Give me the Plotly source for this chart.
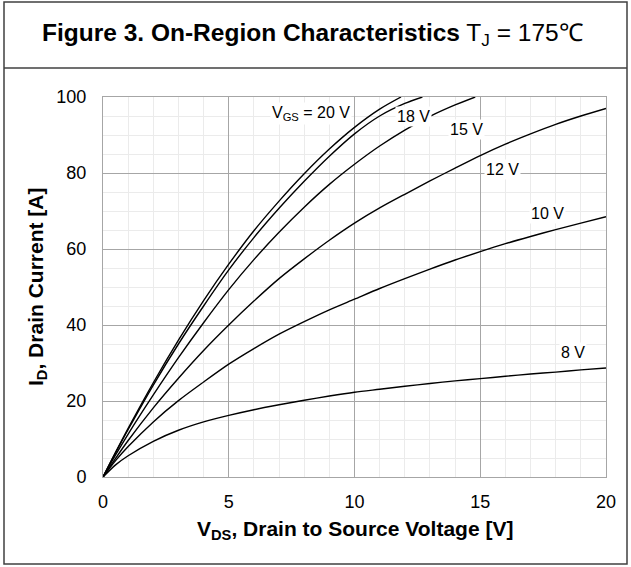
import plotly.graph_objects as go

# ---- data ----
vds_20 = [0, 0.5, 1, 2, 3, 4, 5, 6, 7, 8, 9, 10, 11, 11.85]
id_20 = [0, 6.5, 12.8, 24.8, 36.0, 46.4, 56.0, 64.8, 72.6, 79.8, 86.3, 92.0, 96.8, 100]

vds_18 = [0, 0.5, 1, 2, 3, 4, 5, 6, 7, 8, 9, 10, 11, 12, 12.7]
id_18 = [0, 6.4, 12.5, 24.2, 35.0, 45.0, 54.5, 63.0, 70.7, 77.8, 84.4, 90.3, 95.0, 98.3, 100]

vds_15 = [0, 0.5, 1, 2, 3, 4, 5, 6, 7, 8, 9, 10, 11, 12, 13, 14, 14.8]
id_15 = [0, 5.8, 11.3, 21.6, 31.4, 40.6, 49.3, 57.2, 64.4, 71.0, 77.0, 82.3, 87.1, 91.3, 94.9, 97.9, 100]

vds_low = [0, 0.5, 1, 2, 3, 4, 5, 6, 7, 8, 9, 10, 11, 12, 13, 14, 15, 16, 17, 18, 19, 20]
id_12 = [0, 4.9, 9.6, 18.2, 26.0, 33.3, 40.0, 46.3, 52.2, 57.4, 62.3, 66.8, 70.8, 74.4,
         77.9, 81.3, 84.6, 87.6, 90.3, 92.8, 95.0, 97.0]
id_10 = [0, 4.3, 8.0, 14.5, 20.1, 25.0, 29.7, 33.8, 37.6, 40.9, 44.0, 46.8, 49.6, 52.2,
         54.7, 57.1, 59.3, 61.4, 63.3, 65.1, 66.8, 68.5]
id_8 = [0, 3.2, 5.6, 9.4, 12.3, 14.5, 16.2, 17.7, 19.0, 20.2, 21.3, 22.3, 23.1, 23.9,
        24.6, 25.3, 25.9, 26.5, 27.1, 27.6, 28.2, 28.7]

series = [
    ("20 V", vds_20, id_20),
    ("18 V", vds_18, id_18),
    ("15 V", vds_15, id_15),
    ("12 V", vds_low, id_12),
    ("10 V", vds_low, id_10),
    ("8 V", vds_low, id_8),
]

label_texts = ["V<sub>GS</sub> = 20 V", "18 V", "15 V", "12 V", "10 V", "8 V"]
label_x = [8.28, 12.34, 14.45, 15.88, 17.67, 18.7]
label_y = [95.6, 94.8, 91.4, 80.9, 69.3, 32.7]

x_ticks = [0, 5, 10, 15, 20]
y_ticks = [0, 20, 40, 60, 80, 100]

title_text = "<b>Figure 3. On-Region Characteristics</b> T<sub>J</sub> = 175℃"
x_title = "<b>V<sub>DS</sub>, Drain to Source Voltage [V]</b>"
y_title = "<b>I<sub>D</sub>, Drain Current [A]</b>"

FONT = "Liberation Sans, Arial, Helvetica, sans-serif"
MAJOR = "#a6a6a6"
MINOR = "#ebebeb"
BORDER = "#404040"

fig = go.Figure()
for name, xs, ys in series:
    fig.add_trace(go.Scatter(x=xs, y=ys, mode="lines", name=name,
                             line=dict(color="black", width=1.4, shape="spline", smoothing=0.8),
                             showlegend=False, hoverinfo="skip"))

annotations = []
for t, lx, ly in zip(label_texts, label_x, label_y):
    annotations.append(dict(x=lx, y=ly, xref="x", yref="y", text=t, showarrow=False,
                            font=dict(family=FONT, size=16, color="black"),
                            bgcolor="white", borderpad=1, xanchor="center", yanchor="middle"))

# plot area: x 103..606 px, y 97..477 px
W, H = 631, 567
L, R, T, B = 103, 25, 97, 90
pw, ph = W - L - R, H - T - B

def px_to_paper_x(px):
    return (px - L) / pw

def px_to_paper_y(py):
    return (H - B - py) / ph

annotations.append(dict(x=px_to_paper_x(312), y=px_to_paper_y(34), xref="paper", yref="paper",
                        text=title_text, showarrow=False, xanchor="center", yanchor="middle",
                        font=dict(family=FONT, size=24.5, color="black")))
annotations.append(dict(x=0.5, y=px_to_paper_y(530), xref="paper", yref="paper",
                        text=x_title, showarrow=False, xanchor="center", yanchor="middle",
                        font=dict(family=FONT, size=21, color="black")))
annotations.append(dict(x=px_to_paper_x(37), y=0.5, xref="paper", yref="paper",
                        text=y_title, showarrow=False, xanchor="center", yanchor="middle",
                        textangle=-90, font=dict(family=FONT, size=21, color="black")))

shapes = [
    dict(type="rect", xref="paper", yref="paper",
         x0=px_to_paper_x(4), x1=px_to_paper_x(627), y0=px_to_paper_y(564), y1=px_to_paper_y(2),
         line=dict(color=BORDER, width=1.5), fillcolor="rgba(0,0,0,0)", layer="above"),
    dict(type="line", xref="paper", yref="paper",
         x0=px_to_paper_x(4), x1=px_to_paper_x(627), y0=px_to_paper_y(68), y1=px_to_paper_y(68),
         line=dict(color=BORDER, width=1.5), layer="above"),
]

fig.update_layout(
    width=W, height=H,
    margin=dict(l=L, r=R, t=T, b=B),
    paper_bgcolor="white", plot_bgcolor="white",
    font=dict(family=FONT, color="black"),
    annotations=annotations,
    shapes=shapes,
    xaxis=dict(range=[0, 20], tickvals=x_ticks, ticktext=[str(v) for v in x_ticks],
               showgrid=True, gridcolor=MAJOR, gridwidth=1,
               minor=dict(dtick=1, showgrid=True, gridcolor=MINOR, gridwidth=1),
               showline=True, linecolor=MAJOR, linewidth=1, mirror=True,
               zeroline=False, ticks="", ticklabelstandoff=8,
               tickfont=dict(family=FONT, size=18, color="black"), fixedrange=True),
    yaxis=dict(range=[0, 100], tickvals=y_ticks, ticktext=[str(v) for v in y_ticks],
               showgrid=True, gridcolor=MAJOR, gridwidth=1,
               minor=dict(dtick=5, showgrid=True, gridcolor=MINOR, gridwidth=1),
               showline=True, linecolor=MAJOR, linewidth=1, mirror=True,
               zeroline=False, ticks="", ticklabelstandoff=12,
               tickfont=dict(family=FONT, size=18, color="black"), fixedrange=True),
)

fig.write_html("out.html")
